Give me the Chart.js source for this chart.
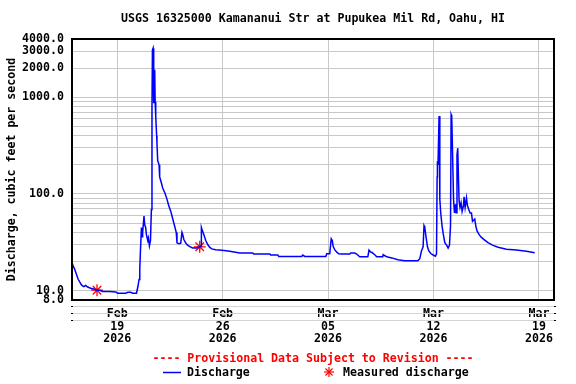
<!DOCTYPE html>
<html>
<head>
<meta charset="utf-8">
<script src="https://cdn.jsdelivr.net/npm/chart.js@4.4.1/dist/chart.umd.min.js"></script>
<style>
    html, body { margin: 0; padding: 0; background: #ffffff; }
    #wrap { width: 576px; height: 384px; }
</style>
</head>
<body>
<div id="wrap"><canvas id="chart" width="576" height="384"></canvas></div>
<script>
// days since Feb 16 2026 00:00
const dischargeDays = [
    0.03, 0.08, 0.18, 0.31, 0.41, 0.51, 0.64, 0.78, 0.91, 1.04, 1.24, 1.44, 1.66, 1.84, 2.04, 2.50,
    2.90, 3.03, 3.57, 3.70, 3.90, 4.03, 4.28, 4.38, 4.45, 4.50, 4.54, 4.61, 4.65, 4.69, 4.78, 4.83,
    4.89, 4.94, 5.03, 5.07, 5.14, 5.21, 5.27, 5.31, 5.34, 5.38, 5.41, 5.44, 5.49, 5.52, 5.56, 5.62,
    5.64, 5.69, 5.74, 5.78, 5.82, 5.94, 6.02, 6.16, 6.29, 6.42, 6.56, 6.69, 6.82, 6.92, 6.97, 7.09,
    7.22, 7.30, 7.35, 7.42, 7.55, 7.68, 7.82, 8.01, 8.28, 8.48, 8.57, 8.59, 8.65, 8.75, 8.88, 9.01,
    9.15, 9.28, 9.54, 9.95, 10.47, 11.14, 12.00, 12.07, 13.13, 13.19, 13.66, 13.73, 15.25, 15.32, 15.45, 16.85,
    16.91, 17.11, 17.21, 17.28, 17.34, 17.44, 17.58, 17.71, 17.91, 18.44, 18.51, 18.77, 18.90, 19.10, 19.64, 19.72,
    19.83, 19.90, 20.10, 20.23, 20.63, 20.66, 20.83, 20.96, 21.23, 21.63, 22.09, 22.96, 23.09, 23.20, 23.31, 23.37,
    23.42, 23.49, 23.60, 23.69, 23.82, 23.95, 24.13, 24.20, 24.24, 24.26, 24.30, 24.37, 24.42, 24.48, 24.57, 24.65,
    24.75, 24.88, 24.97, 25.06, 25.13, 25.17, 25.21, 25.26, 25.33, 25.39, 25.46, 25.50, 25.56, 25.61, 25.66, 25.70,
    25.76, 25.83, 25.90, 25.99, 26.03, 26.10, 26.19, 26.25, 26.34, 26.43, 26.52, 26.59, 26.74, 26.81, 26.89, 27.03,
    27.18, 27.40, 27.62, 27.95, 28.29, 28.84, 29.51, 30.17, 30.72
];
const dischargeValues = [
    19.0, 18.0, 16.6, 14.5, 13.1, 12.3, 11.4, 11.0, 11.3, 10.9, 10.6, 10.4, 10.1, 10.1, 9.8, 9.8,
    9.7, 9.4, 9.4, 9.6, 9.6, 9.4, 9.4, 11.1, 13.0, 16.6, 25.0, 45.0, 36.0, 40.0, 59.0, 48.0,
    45.0, 38.0, 33.0, 35.0, 29.0, 33.0, 69.0, 800, 3080, 3200, 1000, 868, 1920, 900, 630, 400,
    337, 220, 210, 200, 150, 129, 115, 103, 90.0, 76.0, 66.0, 55.0, 46.0, 40.0, 31.3, 30.5,
    31.0, 40.0, 38.0, 34.0, 31.0, 29.5, 28.5, 27.6, 27.6, 28.4, 29.0, 45.0, 42.0, 38.0, 33.0, 30.0,
    28.0, 27.0, 26.5, 26.1, 25.5, 24.5, 24.5, 23.9, 23.9, 23.3, 23.3, 22.6, 22.6, 23.3, 22.6, 22.6,
    24.1, 24.1, 34.4, 33.0, 28.5, 26.5, 25.0, 24.0, 23.9, 23.9, 24.5, 24.5, 23.9, 22.4, 22.4, 26.3,
    25.0, 24.9, 23.5, 22.4, 22.4, 23.5, 22.7, 22.3, 21.8, 20.9, 20.4, 20.4, 21.4, 25.7, 28.4, 47.0,
    45.0, 37.3, 28.4, 25.7, 24.2, 23.5, 22.7, 24.0, 150, 218, 200, 641, 88.0, 63.5, 46.5, 38.3,
    31.3, 29.4, 27.6, 29.4, 46.5, 660, 630, 289, 88.0, 63.5, 78.0, 64.0, 254, 297, 140, 84.6,
    72.5, 81.0, 66.0, 75.7, 93.5, 72.5, 91.0, 75.7, 69.0, 63.5, 63.5, 52.0, 55.0, 46.5, 41.5, 37.9,
    35.5, 33.3, 31.3, 29.4, 28.1, 26.8, 26.3, 25.5, 24.7
];
const measuredDays = [1.66, 8.48];
const measuredValues = [10.1, 28.4];

const xTickDays = [3, 10, 17, 24, 31];
const xTickLabels = [
    ["Feb", "19", "2026"],
    ["Feb", "26", "2026"],
    ["Mar", "05", "2026"],
    ["Mar", "12", "2026"],
    ["Mar", "19", "2026"]
];
const yGridValues = [8, 10, 20, 30, 40, 50, 60, 70, 80, 90, 100, 200, 300, 400, 500, 600, 700, 800, 900, 1000, 2000, 3000, 4000];
const yLabelValues = [8, 10, 100, 1000, 2000, 3000, 4000];

const titleText = "USGS 16325000 Kamananui Str at Pupukea Mil Rd, Oahu, HI";
const footerText = "---- Provisional Data Subject to Revision ----";
const fontFamily = "'DejaVu Sans Mono', 'Liberation Mono', monospace";
const gridColor = "#c8c8c8";

function toPoints(xs, ys) {
    return xs.map((x, i) => ({ x: x, y: ys[i] }));
}

const decorPlugin = {
    id: "decor",
    beforeDatasetsDraw(chart) {
        const ctx = chart.ctx;
        const area = chart.chartArea;
        // faint lines under the plot
        ctx.save();
        ctx.strokeStyle = "#d4d4d4";
        ctx.lineWidth = 1;
        [306.5, 313.5, 320.5].forEach(y => {
            ctx.beginPath();
            ctx.moveTo(area.left, y);
            ctx.lineTo(area.right + 1, y);
            ctx.stroke();
            ctx.fillStyle = "#000000";
            ctx.fillRect(area.left - 1, y - 0.5, 2, 1);
            ctx.fillRect(area.right, y - 0.5, 2, 1);
        });
        ctx.restore();
    },
    afterDraw(chart) {
        const ctx = chart.ctx;
        const area = chart.chartArea;
        const centerX = (area.left + area.right) / 2;
        ctx.save();
        // plot frame
        ctx.strokeStyle = "#000000";
        ctx.lineWidth = 2;
        ctx.strokeRect(area.left, area.top, area.right - area.left, area.bottom - area.top);

        ctx.font = "bold 11.6px " + fontFamily;
        ctx.textBaseline = "middle";
        ctx.textAlign = "center";
        ctx.fillStyle = "#000000";
        ctx.fillText(titleText, centerX, 19);

        ctx.fillStyle = "#ff0000";
        ctx.fillText(footerText, centerX, 359);

        // legend
        ctx.textAlign = "left";
        ctx.strokeStyle = "#0000ff";
        ctx.lineWidth = 1.5;
        ctx.beginPath();
        ctx.moveTo(163, 372.5);
        ctx.lineTo(181, 372.5);
        ctx.stroke();
        ctx.fillStyle = "#000000";
        ctx.fillText("Discharge", 187, 373);

        ctx.strokeStyle = "#ff0000";
        ctx.lineWidth = 1.2;
        const sx = 329, sy = 372, r = 5;
        for (let k = 0; k < 4; k++) {
            const a = k * Math.PI / 4;
            ctx.beginPath();
            ctx.moveTo(sx - r * Math.cos(a), sy - r * Math.sin(a));
            ctx.lineTo(sx + r * Math.cos(a), sy + r * Math.sin(a));
            ctx.stroke();
        }
        ctx.fillText("Measured discharge", 343, 373);
        ctx.restore();
    }
};

const ctx = document.getElementById("chart");

const graph = new Chart(ctx, {
    type: "line",
    data: {
        datasets: [
            {
                label: "Discharge",
                data: toPoints(dischargeDays, dischargeValues),
                borderColor: "#0000ff",
                borderWidth: 1.5,
                pointRadius: 0,
                tension: 0,
                fill: false
            },
            {
                label: "Measured discharge",
                data: toPoints(measuredDays, measuredValues),
                showLine: false,
                pointStyle: "star",
                pointRadius: 6,
                borderColor: "#ff0000",
                backgroundColor: "#ff0000",
                borderWidth: 1.3
            }
        ]
    },
    options: {
        responsive: false,
        animation: false,
        events: [],
        layout: {
            padding: { left: 0, top: 39, right: 22, bottom: 0 }
        },
        scales: {
            x: {
                type: "linear",
                min: 0,
                max: 32,
                afterBuildTicks: function(axis) {
                    axis.ticks = xTickDays.map(v => ({ value: v }));
                },
                afterFit: function(axis) {
                    axis.height = 84;
                },
                grid: {
                    color: gridColor,
                    drawTicks: false
                },
                border: { display: false },
                ticks: {
                    padding: 7,
                    maxRotation: 0,
                    autoSkip: false,
                    color: "#000000",
                    font: { family: fontFamily, size: 11.6, weight: "bold", lineHeight: 1.12 },
                    callback: function(value) {
                        const i = xTickDays.indexOf(value);
                        return i >= 0 ? xTickLabels[i] : "";
                    }
                }
            },
            y: {
                type: "logarithmic",
                min: 8,
                max: 4000,
                afterBuildTicks: function(axis) {
                    axis.ticks = yGridValues.map(v => ({ value: v }));
                },
                afterFit: function(axis) {
                    axis.width = 72;
                },
                grid: {
                    color: gridColor,
                    drawTicks: false
                },
                border: { display: false },
                title: {
                    display: true,
                    text: "Discharge, cubic feet per second",
                    color: "#000000",
                    font: { family: fontFamily, size: 11.6, weight: "bold" },
                    padding: { top: 5, bottom: 0 }
                },
                ticks: {
                    padding: 8,
                    autoSkip: false,
                    color: "#000000",
                    font: { family: fontFamily, size: 11.6, weight: "bold" },
                    callback: function(value) {
                        return yLabelValues.includes(value) ? value.toFixed(1) : "";
                    }
                }
            }
        },
        plugins: {
            legend: { display: false },
            title: { display: false },
            tooltip: { enabled: false }
        }
    },
    plugins: [decorPlugin]
});
</script>
</body>
</html>
